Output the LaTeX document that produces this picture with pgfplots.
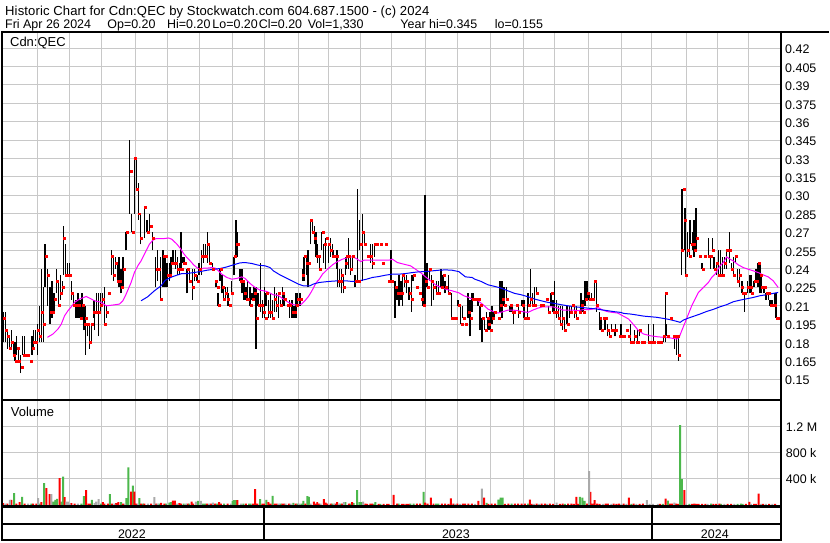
\documentclass[border=0pt]{standalone}
\usepackage{pgfplots}
\usepackage{pgfplotstable}
\pgfplotsset{compat=1.18}
\usepackage{fontspec}
\setmainfont{Liberation Sans}
\newfontfamily\hdrfont[LetterSpace=1.0]{Liberation Sans}
\definecolor{gridc}{RGB}{200,200,200}
\definecolor{vgreen}{RGB}{76,184,76}
\definecolor{vgray}{RGB}{170,170,170}
\definecolor{mablue}{RGB}{0,0,255}
\definecolor{mamag}{RGB}{255,0,255}
\pgfplotstableread{
x hi lo cl
2 0.205 0.18 0.20
4 0.205 0.18 0.19
6 0.19 0.175 0.185
8 0.185 0.175 0.175
10 0.19 0.175 0.18
12 0.18 0.17 0.17
13.5 0.18 0.165 0.165
15.3 0.185 0.17 0.175
17 0.175 0.165 0.165
19.3 0.17 0.155 0.16
21.3 0.185 0.17 0.17
23.3 0.185 0.17 0.17
25.3 0.17 0.17 0.17
28.7 0.165 0.165 0.165
30.7 0.185 0.17 0.175
32.3 0.19 0.175 0.18
34 0.19 0.18 0.18
36 0.195 0.17 0.19
38.3 0.21 0.18 0.185
40 0.24 0.18 0.205
42 0.225 0.18 0.195
43.7 0.26 0.225 0.25
46 0.24 0.21 0.235
48.7 0.225 0.195 0.205
50.7 0.23 0.2 0.205
52.7 0.22 0.205 0.215
55 0.24 0.22 0.23
57 0.23 0.21 0.21
59.3 0.235 0.215 0.22
61 0.23 0.22 0.225
62.3 0.275 0.235 0.265
64.3 0.26 0.235 0.235
66 0.245 0.235 0.235
68 0.245 0.235 0.235
70.3 0.23 0.215 0.22
72 0.22 0.21 0.21
74.7 0.215 0.2 0.21
76.7 0.22 0.2 0.21
78.7 0.215 0.2 0.2
80.7 0.22 0.2 0.21
82.7 0.21 0.19 0.195
84 0.21 0.17 0.2
86 0.195 0.185 0.195
88 0.195 0.175 0.18
90 0.195 0.18 0.195
92 0.215 0.2 0.205
93.3 0.215 0.19 0.205
95.3 0.22 0.205 0.205
97.3 0.22 0.185 0.205
99.3 0.22 0.205 0.21
101.3 0.22 0.21 0.215
103 0.225 0.195 0.195
105.3 0.21 0.2 0.205
107.3 0.22 0.22 0.22
110 0.255 0.235 0.25
112 0.25 0.23 0.235
114 0.25 0.24 0.245
116 0.245 0.23 0.23
118 0.25 0.225 0.23
120 0.24 0.22 0.225
122 0.25 0.225 0.24
125 0.27 0.255 0.27
128.7 0.345 0.285 0.32
130.7 0.285 0.27 0.27
133.3 0.33 0.285 0.33
135.3 0.33 0.305 0.305
137.3 0.31 0.28 0.285
139.3 0.285 0.26 0.265
143.3 0.29 0.265 0.29
146 0.28 0.27 0.27
148.7 0.285 0.27 0.275
151.3 0.27 0.255 0.265
154.7 0.25 0.225 0.24
156.7 0.255 0.23 0.24
159.3 0.25 0.215 0.215
162 0.255 0.225 0.25
164 0.25 0.225 0.25
166 0.245 0.225 0.235
168.7 0.245 0.23 0.235
170 0.25 0.235 0.245
172 0.255 0.245 0.245
174.7 0.255 0.24 0.245
176.7 0.25 0.235 0.24
178.7 0.245 0.235 0.24
180 0.27 0.24 0.24
182 0.25 0.245 0.245
183.3 0.25 0.245 0.245
186 0.24 0.22 0.24
188.7 0.24 0.23 0.23
191.3 0.24 0.215 0.225
193.3 0.24 0.23 0.235
196 0.235 0.23 0.23
198 0.245 0.235 0.24
200.7 0.255 0.235 0.25
202.7 0.26 0.245 0.25
204.7 0.26 0.25 0.25
206.7 0.27 0.245 0.26
208.7 0.26 0.245 0.245
211.3 0.245 0.24 0.24
214.7 0.23 0.225 0.23
216 0.23 0.225 0.225
217.3 0.22 0.21 0.21
219.3 0.24 0.23 0.24
221.3 0.235 0.22 0.225
222.7 0.225 0.215 0.215
224.7 0.225 0.215 0.22
226.7 0.225 0.21 0.215
228 0.22 0.21 0.21
230.7 0.23 0.22 0.22
233.3 0.25 0.235 0.25
235.3 0.28 0.25 0.26
236.7 0.27 0.25 0.26
239.3 0.24 0.23 0.23
241.3 0.24 0.22 0.23
243.3 0.23 0.215 0.22
245.3 0.225 0.215 0.215
246.7 0.23 0.215 0.215
249.3 0.225 0.21 0.21
251.3 0.22 0.215 0.215
253.3 0.225 0.215 0.22
255.3 0.225 0.175 0.2
257.3 0.22 0.21 0.21
260 0.245 0.205 0.21
262 0.215 0.2 0.205
264 0.225 0.2 0.2
265.3 0.22 0.21 0.22
268 0.215 0.2 0.205
270 0.22 0.2 0.205
272 0.215 0.2 0.2
274 0.225 0.205 0.215
276 0.22 0.205 0.21
278 0.22 0.2 0.22
280 0.215 0.21 0.21
282 0.225 0.21 0.22
283.3 0.22 0.21 0.215
286.7 0.21 0.21 0.21
288.7 0.215 0.2 0.21
291.3 0.215 0.2 0.205
293.3 0.21 0.2 0.205
295.3 0.22 0.2 0.21
296.7 0.22 0.21 0.215
299.3 0.22 0.21 0.215
302 0.24 0.23 0.235
303.3 0.25 0.23 0.25
306 0.25 0.235 0.245
307.3 0.255 0.225 0.245
310 0.28 0.26 0.28
312 0.28 0.27 0.27
314 0.275 0.26 0.265
315.3 0.27 0.25 0.25
317.3 0.26 0.245 0.25
318.7 0.25 0.24 0.24
321.3 0.27 0.255 0.27
323.3 0.26 0.245 0.26
325.3 0.265 0.24 0.265
328 0.26 0.245 0.26
330 0.265 0.25 0.255
332 0.26 0.25 0.25
333.3 0.255 0.25 0.25
336 0.255 0.24 0.25
337.3 0.255 0.225 0.23
339.3 0.24 0.225 0.23
340.7 0.24 0.22 0.235
342.7 0.235 0.22 0.225
344.7 0.25 0.235 0.245
346 0.25 0.24 0.25
348 0.265 0.24 0.25
350 0.25 0.235 0.24
352 0.25 0.24 0.25
354.7 0.235 0.225 0.23
357.3 0.305 0.23 0.23
359.3 0.28 0.255 0.26
362 0.285 0.23 0.27
364 0.27 0.26 0.26
367.3 0.25 0.25 0.25
370 0.26 0.245 0.25
372 0.26 0.24 0.245
374 0.26 0.25 0.26
376 0.26 0.26 0.26
380 0.26 0.26 0.26
382 0.245 0.245 0.245
385.3 0.26 0.26 0.26
388 0.23 0.23 0.23
390.7 0.255 0.23 0.23
394.7 0.23 0.2 0.225
396.7 0.225 0.215 0.22
398.7 0.235 0.21 0.22
400.7 0.23 0.215 0.22
402 0.235 0.21 0.235
404 0.235 0.225 0.23
406 0.235 0.22 0.23
408.7 0.225 0.215 0.22
411.3 0.235 0.205 0.215
412.7 0.235 0.23 0.235
416 0.225 0.225 0.225
419.3 0.22 0.22 0.22
421.3 0.215 0.215 0.215
422.7 0.235 0.21 0.21
424.7 0.30 0.21 0.23
426.7 0.245 0.225 0.225
429.3 0.24 0.23 0.24
431.3 0.235 0.21 0.23
433.3 0.23 0.215 0.225
436 0.23 0.22 0.22
438 0.23 0.22 0.22
440.7 0.24 0.225 0.225
442.7 0.235 0.225 0.235
444.7 0.23 0.22 0.225
448 0.235 0.22 0.22
451.3 0.22 0.2 0.2
453.3 0.2 0.2 0.2
455.3 0.2 0.2 0.2
458 0.215 0.21 0.21
460.7 0.21 0.195 0.195
462.7 0.21 0.2 0.2
465.3 0.195 0.195 0.195
468 0.22 0.2 0.205
470 0.215 0.185 0.2
472 0.22 0.205 0.215
473.3 0.22 0.215 0.215
476 0.215 0.215 0.215
478 0.215 0.21 0.215
480 0.21 0.19 0.21
482 0.2 0.18 0.2
484.7 0.2 0.19 0.19
486.7 0.205 0.2 0.2
488 0.2 0.19 0.195
490 0.205 0.19 0.19
492 0.21 0.195 0.2
494 0.205 0.2 0.205
498 0.2 0.2 0.2
500 0.23 0.205 0.21
502 0.23 0.2 0.215
504 0.225 0.21 0.21
506.7 0.225 0.215 0.215
510 0.21 0.205 0.21
512 0.21 0.205 0.205
513.3 0.205 0.195 0.205
516.7 0.21 0.21 0.21
518.7 0.21 0.2 0.205
522 0.215 0.21 0.21
524 0.215 0.2 0.2
527.3 0.22 0.2 0.2
528.7 0.22 0.21 0.21
530.7 0.24 0.21 0.215
532.7 0.22 0.21 0.21
534.7 0.225 0.21 0.21
536.7 0.225 0.22 0.22
540 0.21 0.21 0.21
542 0.21 0.21 0.21
546.7 0.215 0.215 0.215
548.7 0.21 0.205 0.205
551.3 0.22 0.21 0.22
553.3 0.215 0.205 0.205
554.7 0.23 0.205 0.205
556.7 0.215 0.2 0.205
558.7 0.21 0.2 0.2
560.7 0.21 0.195 0.195
562.7 0.21 0.19 0.2
564.7 0.2 0.19 0.19
567.3 0.21 0.195 0.195
570 0.21 0.2 0.205
572 0.21 0.205 0.21
574.7 0.21 0.2 0.205
576.7 0.21 0.2 0.2
579.3 0.205 0.205 0.205
581.3 0.22 0.205 0.21
583.3 0.215 0.205 0.205
585.3 0.23 0.21 0.215
587.3 0.23 0.215 0.22
589.3 0.22 0.215 0.215
592 0.22 0.215 0.215
594.7 0.23 0.215 0.23
596.7 0.23 0.205 0.21
600 0.205 0.19 0.2
601.3 0.2 0.19 0.19
604 0.2 0.2 0.2
605.3 0.2 0.19 0.2
608 0.195 0.185 0.19
610 0.19 0.185 0.185
612 0.195 0.19 0.19
614.7 0.19 0.185 0.19
616 0.195 0.185 0.19
619.3 0.185 0.185 0.185
621.3 0.195 0.185 0.185
624 0.185 0.185 0.185
626.7 0.19 0.19 0.19
628.7 0.185 0.185 0.185
630.7 0.195 0.18 0.18
632.7 0.18 0.18 0.18
634.7 0.19 0.18 0.185
636.7 0.18 0.18 0.18
638 0.19 0.18 0.18
640 0.19 0.185 0.19
642 0.18 0.18 0.18
644 0.18 0.18 0.18
648.7 0.195 0.18 0.18
651.3 0.18 0.18 0.18
654 0.195 0.18 0.18
658 0.18 0.18 0.18
660.7 0.18 0.18 0.18
664 0.185 0.18 0.185
666 0.22 0.18 0.22
667.3 0.195 0.185 0.185
670.7 0.2 0.2 0.2
673.3 0.185 0.185 0.185
675.3 0.185 0.175 0.185
677.3 0.185 0.17 0.185
678.7 0.185 0.165 0.17
682 0.305 0.235 0.255
683.3 0.305 0.255 0.305
684.7 0.29 0.255 0.28
686 0.29 0.235 0.235
688 0.27 0.25 0.255
690 0.28 0.25 0.25
691.3 0.28 0.26 0.26
693.3 0.27 0.255 0.26
694.7 0.28 0.25 0.255
696.7 0.29 0.255 0.265
700 0.25 0.25 0.25
702.7 0.245 0.24 0.24
704.7 0.25 0.25 0.25
709.3 0.265 0.25 0.25
711.3 0.25 0.24 0.25
713.3 0.265 0.255 0.255
714.7 0.25 0.24 0.24
717.3 0.245 0.235 0.245
719.3 0.255 0.235 0.235
721.3 0.255 0.235 0.235
723.3 0.25 0.235 0.235
725.3 0.25 0.24 0.245
727.3 0.255 0.24 0.255
730 0.27 0.245 0.255
732 0.245 0.24 0.24
734 0.25 0.235 0.235
736 0.25 0.245 0.25
738 0.24 0.23 0.23
740 0.24 0.225 0.235
742 0.23 0.22 0.225
743.3 0.23 0.22 0.22
745.3 0.22 0.205 0.22
748 0.23 0.22 0.225
750.7 0.235 0.22 0.225
752 0.235 0.22 0.22
754.7 0.23 0.225 0.23
756.7 0.24 0.23 0.23
758.7 0.245 0.225 0.245
760.7 0.245 0.22 0.235
762 0.235 0.22 0.225
764.7 0.225 0.22 0.225
766.7 0.22 0.215 0.22
769.3 0.22 0.215 0.22
770.7 0.215 0.21 0.21
772.7 0.215 0.21 0.21
775.3 0.22 0.21 0.21
776.7 0.22 0.2 0.2
778.7 0.2 0.2 0.2
}\ohlc
\begin{document}
\begin{tikzpicture}[x=1pt,y=1pt]
\path[fill=white] (0,0) rectangle (830,543);
% ---------------- price panel ----------------
\begin{axis}[
  at={(1pt,142pt)}, anchor=south west, scale only axis,
  width=780pt, height=369pt,
  xmin=1, xmax=781, ymin=0.13325, ymax=0.43325,
  axis line style={draw=none},
  xtick={36,68.3,100.7,134.3,166,198.7,231.3,263.7,297.7,327.7,360.3,391.3,425.3,457.7,490.3,524,554.7,588.7,622,652.3,687.3,718.3,749.7},
  xticklabels={},
  ytick={0.15,0.165,0.18,0.195,0.21,0.225,0.24,0.255,0.27,0.285,0.30,0.315,0.33,0.345,0.36,0.375,0.39,0.405,0.42},
  yticklabels={0.15,0.165,0.18,0.195,0.21,0.225,0.24,0.255,0.27,0.285,0.30,0.315,0.33,0.345,0.36,0.375,0.39,0.405,0.42},
  yticklabel pos=right,
  major tick length=0pt, tick style={draw=none},
  grid=major, major grid style={gridc, line width=1pt},
  yticklabel style={font=\fontsize{12.5}{14}\selectfont, anchor=west, xshift=1.5pt, yshift=-1.4pt},
]
\addplot[draw=none, mark=none, forget plot,
  error bars/.cd, y dir=plus, y explicit, error mark=none,
  error bar style={draw=black, solid, line width=1.3pt}]
  table[x=x, y=lo, y error expr=\thisrow{hi}-\thisrow{lo}] {\ohlc};
\addplot[mamag, line width=1pt] coordinates {
(46,0.1842)(51.7,0.1869)(56.7,0.1910)(60,0.1950)(63.3,0.2018)(66.7,0.2059)(70,0.2091)(73.3,0.2127)(78.3,0.2154)(85,0.2175)(88.3,0.2162)(93.3,0.2140)(100,0.2127)(105,0.2099)(111.7,0.2105)(118.3,0.2113)(121.7,0.2140)(125,0.2194)(130,0.2289)(133.3,0.2370)(136.7,0.2425)(140,0.2465)(143.3,0.2519)(148.3,0.2601)(151.7,0.2633)(155,0.2647)(162.7,0.2647)(167.7,0.2652)(171,0.2641)(176,0.2601)(179.3,0.2568)(182.7,0.2525)(186,0.2492)(189.3,0.2465)(192.7,0.2433)(196,0.2411)(199.3,0.2395)(202.7,0.2406)(206,0.2406)(211,0.2411)(214.3,0.2406)(217.7,0.2384)(221,0.2357)(226,0.2330)(231,0.2316)(236,0.2322)(241,0.2335)(244.3,0.2322)(249.3,0.2281)(254.3,0.2249)(259.3,0.2227)(266,0.2216)(272.7,0.2189)(277.7,0.2183)(282.7,0.2154)(287.7,0.2127)(292.7,0.2108)(297.7,0.2105)(301,0.2113)(304.3,0.2140)(307.7,0.2173)(311,0.2216)(315.3,0.2284)(318.7,0.2316)(322,0.2357)(327,0.2397)(332,0.2433)(337,0.2460)(342,0.2479)(347,0.2492)(351.3,0.2498)(355.3,0.2487)(360.3,0.2460)(363.7,0.2471)(375.3,0.2471)(388.7,0.2471)(392,0.2479)(397,0.2452)(403.7,0.2438)(410.3,0.2425)(415.3,0.2397)(420.3,0.2370)(425.3,0.2335)(430.3,0.2303)(435.3,0.2270)(440.3,0.2249)(445.3,0.2235)(452,0.2221)(458.7,0.2205)(463.7,0.2181)(468.7,0.2167)(473,0.2151)(478,0.2140)(483,0.2108)(488,0.2072)(493,0.2053)(498,0.2040)(503,0.2051)(508,0.2064)(513,0.2064)(518,0.2059)(523,0.2051)(528,0.2045)(533,0.2064)(538,0.2080)(543,0.2091)(553,0.2091)(558,0.2080)(563,0.2064)(573,0.2064)(578,0.2059)(583,0.2067)(588,0.2067)(593,0.2072)(598,0.2086)(603,0.2064)(608,0.2051)(613,0.2045)(618,0.2040)(623,0.2018)(629,0.1991)(634,0.1945)(639,0.1896)(644,0.1869)(650.7,0.1855)(657.3,0.1847)(664,0.1842)(670.7,0.1837)(677.3,0.1828)(679.7,0.1842)(682.3,0.1896)(685.7,0.1964)(689,0.2032)(692.3,0.2099)(695.7,0.2154)(699,0.2208)(704,0.2249)(709,0.2289)(712.3,0.2330)(715.7,0.2357)(720.7,0.2425)(724,0.2452)(727.3,0.2498)(730.7,0.2479)(734,0.2465)(739,0.2433)(744,0.2411)(749,0.2397)(754,0.2384)(759,0.2370)(764,0.2351)(769,0.2335)(774,0.2303)(779,0.2249)};
\addplot[mablue, line width=1pt] coordinates {
(140,0.2140)(146.7,0.2173)(153.3,0.2221)(160,0.2262)(164.3,0.2308)(171,0.2335)(176,0.2349)(181,0.2362)(186,0.2362)(192.7,0.2370)(199.3,0.2378)(206,0.2389)(212.7,0.2397)(219.3,0.2403)(226,0.2416)(232.7,0.2433)(239.3,0.2449)(244.3,0.2452)(251,0.2444)(257.7,0.2430)(264.3,0.2425)(269.3,0.2411)(272.7,0.2384)(279.3,0.2351)(286,0.2324)(292.7,0.2297)(297.7,0.2276)(302.7,0.2262)(309.3,0.2262)(312.7,0.2276)(318.7,0.2289)(325.3,0.2295)(332,0.2300)(338.7,0.2303)(345.3,0.2303)(352,0.2297)(358.7,0.2303)(365.3,0.2314)(372,0.2330)(378.7,0.2338)(385.3,0.2349)(392,0.2357)(398.7,0.2357)(405.3,0.2362)(412,0.2370)(418.7,0.2376)(425.3,0.2378)(432,0.2384)(438.7,0.2389)(445.3,0.2392)(452,0.2389)(458.7,0.2378)(465.3,0.2335)(472,0.2330)(474.7,0.2316)(481.3,0.2297)(488,0.2270)(494.7,0.2257)(501.3,0.2243)(508,0.2221)(514.7,0.2200)(521.3,0.2189)(528,0.2173)(534.7,0.2154)(541.3,0.2140)(548,0.2127)(554.7,0.2118)(561.3,0.2108)(568,0.2099)(574.7,0.2091)(581.3,0.2086)(588,0.2080)(594.7,0.2075)(601.3,0.2067)(608,0.2059)(614.7,0.2051)(621.3,0.2045)(624,0.2037)(630.7,0.2032)(637.3,0.2024)(644,0.2015)(650.7,0.2010)(657.3,0.2005)(664,0.1996)(670.7,0.1986)(677.3,0.1972)(680.7,0.1964)(684,0.1983)(689,0.1999)(694,0.2013)(700.7,0.2032)(707.3,0.2053)(714,0.2070)(720.7,0.2091)(727.3,0.2108)(734,0.2132)(740.7,0.2145)(747.3,0.2156)(754,0.2167)(760.7,0.2181)(767.3,0.2189)(774,0.2200)(779,0.2208)};
\addplot[only marks, mark=square*, mark size=1pt, color=red,
  mark options={xshift=1pt, draw=none, fill=red}] table[x=x, y=cl] {\ohlc};
\end{axis}
% ---------------- volume panel ----------------
\begin{axis}[
  at={(1pt,35pt)}, anchor=south west, scale only axis,
  width=780pt, height=106pt,
  xmin=1, xmax=781, ymin=-25000, ymax=1603000,
  axis line style={draw=none},
  xtick={36,68.3,100.7,134.3,166,198.7,231.3,263.7,297.7,327.7,360.3,391.3,425.3,457.7,490.3,524,554.7,588.7,622,652.3,687.3,718.3,749.7},
  xticklabels={},
  ytick={400000,800000,1200000},
  yticklabels={400 k,800 k,1.2 M},
  scaled y ticks=false,
  yticklabel pos=right,
  major tick length=0pt, tick style={draw=none},
  grid=major, major grid style={gridc, line width=1pt},
  yticklabel style={font=\fontsize{12.5}{14}\selectfont, anchor=west, xshift=2.3pt, yshift=-0.5pt},
]
\addplot[ybar, bar width=2pt, bar shift=0pt, fill=vgreen, draw=none] coordinates {
(12.7,180000)(20.7,123000)(30,20000)(38.3,20000)(42.7,333000)(51.7,51000)(54,77000)(55.7,92000)(60,51000)(61.7,436000)(80,20000)(82.7,133000)(90.7,77000)(100,20000)(108.7,164000)(120,41000)(125.3,103000)(127.3,579000)(131.7,297000)(138.3,103000)(141.7,20000)(158.3,20000)(165,20000)(168.3,36000)(170,41000)(182.7,20000)(188.3,20000)(197.3,61000)(202,20000)(204,20000)(216,20000)(223.3,20000)(231.7,61000)(233.3,72000)(235,72000)(242.7,20000)(248.3,20000)(250,20000)(259.3,87000)(265.7,77000)(272,138000)(280,20000)(292.7,31000)(296.7,20000)(300.7,20000)(302.7,61000)(306.7,133000)(308.3,123000)(331.7,20000)(340,20000)(345,41000)(350,20000)(353.3,25000)(356.7,226000)(359.3,41000)(360.7,41000)(373.3,15000)(375,41000)(380,15000)(398.3,20000)(410,20000)(413.3,20000)(423.3,200000)(436,20000)(438.3,20000)(486.7,31000)(498.3,82000)(500.7,113000)(502.7,113000)(511.7,20000)(528.3,20000)(565,15000)(580,123000)(582.7,113000)(585,62000)(631.7,15000)(663.3,15000)(668.3,67000)(680.7,1230000)(682.3,395000)(690,15000)(711.7,20000)(721.7,15000)(738.3,15000)(741.7,20000)(743.3,15000)};
\addplot[ybar, bar width=2pt, bar shift=0pt, fill=red, draw=none] coordinates {
(1.7,25000)(6,20000)(10,77000)(15,20000)(18.3,41000)(23.3,20000)(31.7,20000)(35,20000)(40,41000)(45,256000)(48.3,164000)(58.3,410000)(63.3,118000)(70,25000)(73.3,20000)(85,226000)(87.3,20000)(89,20000)(101.7,41000)(103.3,20000)(106.7,20000)(110.7,20000)(115,25000)(117.3,41000)(121.7,20000)(130,205000)(133.3,205000)(135,20000)(140,20000)(143.3,20000)(150,20000)(155,20000)(160,31000)(163.3,20000)(172,67000)(174,67000)(178.3,25000)(180,20000)(186.7,20000)(190.7,51000)(192.3,20000)(206,20000)(210,20000)(214,20000)(218.3,41000)(220,20000)(226.7,20000)(236.7,72000)(245,20000)(252.3,20000)(254.3,241000)(256.7,20000)(261.7,20000)(263.3,20000)(267.7,41000)(270,20000)(274,20000)(276,20000)(281.7,20000)(283.3,20000)(288.3,20000)(295,20000)(304.7,20000)(313.3,51000)(315,20000)(316.7,41000)(318.3,20000)(323.3,87000)(325,36000)(326.7,20000)(330,20000)(335,20000)(336.7,41000)(341.7,20000)(348.3,20000)(351.7,41000)(365,20000)(366.7,15000)(370,20000)(371.7,20000)(378.3,15000)(383.3,15000)(386.7,15000)(388.3,15000)(393.3,154000)(396.7,20000)(401.7,15000)(403.3,15000)(406,15000)(408.3,15000)(416.7,20000)(420,20000)(425,36000)(427.3,20000)(430.7,113000)(433.3,20000)(441.7,20000)(445,20000)(448.3,15000)(450.7,100000)(453.3,20000)(457.3,20000)(462.7,20000)(465,20000)(468.3,20000)(471.7,20000)(478.3,62000)(484,113000)(488.3,15000)(491.7,20000)(495,20000)(505,15000)(508.3,20000)(515,20000)(518.3,20000)(521.7,20000)(525,20000)(530,82000)(531.7,15000)(536.7,20000)(541.7,20000)(545,20000)(550,20000)(553.3,15000)(560,15000)(562.7,20000)(568.3,20000)(571.7,20000)(574,15000)(576.7,123000)(578.3,15000)(587.3,20000)(590.7,200000)(592.7,20000)(595,72000)(597.3,20000)(600,15000)(606,20000)(608.3,20000)(614,20000)(616.7,15000)(619.3,20000)(624,20000)(629.3,113000)(634,20000)(640,15000)(643.3,20000)(660.7,15000)(666,97000)(670.7,20000)(672.7,20000)(676.7,20000)(678.3,15000)(685,226000)(692.7,15000)(695,20000)(697.3,15000)(699.3,15000)(702.7,15000)(706,15000)(714,15000)(716.7,15000)(720,20000)(728.3,15000)(731.7,15000)(746.7,15000)(750,46000)(755,15000)(756.7,15000)(759.3,174000)(764,15000)(770,15000)(776,15000)};
\addplot[ybar, bar width=2pt, bar shift=0pt, fill=vgray, draw=none] coordinates {
(4,20000)(8.3,77000)(26.7,20000)(36.7,103000)(50,164000)(65,51000)(66.7,51000)(68.3,20000)(76.7,20000)(93.3,25000)(95,51000)(97.3,87000)(113.3,20000)(124,20000)(136.7,20000)(146.7,20000)(153.3,118000)(156.7,20000)(176,20000)(185,20000)(195,51000)(200,61000)(208.3,20000)(212,36000)(230,20000)(240,20000)(278.3,20000)(285,20000)(290,20000)(298.3,20000)(310,20000)(320,20000)(333.3,20000)(338.3,20000)(343.3,41000)(362.7,51000)(455,15000)(460,15000)(475,15000)(481.7,251000)(534,15000)(539.3,15000)(547.3,15000)(556.7,36000)(589.3,518000)(603.3,15000)(611.7,15000)(621.7,15000)(626.7,15000)(636.7,15000)(647.3,72000)(650,15000)(653.3,15000)(658.3,15000)(675,36000)(686.7,15000)(708.3,15000)(725,15000)(735,15000)(751.7,15000)(761.7,15000)(766.7,15000)(773.3,15000)};
\end{axis}
% ---------------- frames ----------------
\draw[black, line width=2pt] (0,511.3) -- (830,511.3);
\draw[black, line width=2pt] (1,512) -- (1,0.5);
\draw[black, line width=2.4pt] (782,512) -- (782,0.5);
\draw[black, line width=2pt] (0,141.3) -- (782,141.3);
\draw[black, line width=3pt] (0,34.5) -- (782,34.5);
\draw[black, line width=2pt] (0,17) -- (782,17);
\draw[black, line width=2pt] (0,1.3) -- (782,1.3);
\draw[black, line width=2pt] (263.5,34.5) -- (263.5,1);
\draw[black, line width=2pt] (652.3,34.5) -- (652.3,1);
% ---------------- texts ----------------
\node[inner sep=0pt, anchor=base west, font=\hdrfont\fontsize{13.1}{15}\selectfont] at (3.5,527.5) {Historic Chart for Cdn:QEC by Stockwatch.com 604.687.1500 - (c) 2024};
\begin{scope}[every node/.style={inner sep=0pt, anchor=base west, font=\fontsize{12.5}{15}\selectfont}]
\node at (3.5,514.3) {Fri Apr 26 2024};
\node at (106,514.3) {Op=0.20};
\node at (166,514.3) {Hi=0.20};
\node at (211.4,514.3) {Lo=0.20};
\node at (257.9,514.3) {Cl=0.20};
\node at (307,514.3) {Vol=1,330};
\node at (400,514.3) {Year hi=0.345};
\node at (494.6,514.3) {lo=0.155};
\end{scope}
\begin{scope}[every node/.style={inner sep=0pt, anchor=base west, font=\fontsize{13}{15}\selectfont}]
\node at (8.5,496) {Cdn:QEC};
\node at (9.3,125.7) {Volume};
\end{scope}
\begin{scope}[every node/.style={inner sep=0pt, anchor=base, font=\fontsize{12.5}{14}\selectfont}]
\node at (130.8,3.3) {2022};
\node at (455.8,3.3) {2023};
\node at (715.5,3.3) {2024};
\end{scope}
\end{tikzpicture}
\end{document}
